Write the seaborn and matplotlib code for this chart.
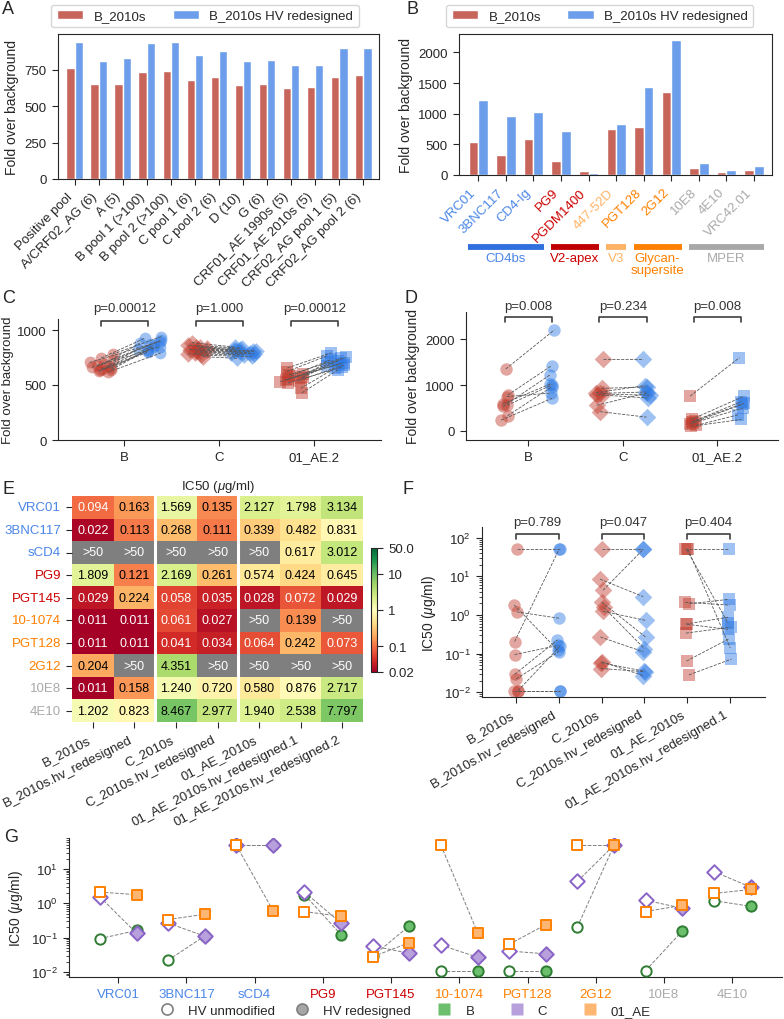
import numpy as np
import pandas as pd
import matplotlib
matplotlib.use('Agg')
import matplotlib.pyplot as plt
import matplotlib.transforms as mtransforms
from matplotlib.colors import LogNorm
from matplotlib.lines import Line2D
import seaborn as sns

# ---------------- data ----------------
# A: pools of sera
pools = ['Positive pool', 'A/CRF02_AG (6)', 'A (5)', 'B pool 1 (>100)', 'B pool 2 (>100)',
         'C pool 1 (6)', 'C pool 2 (6)', 'D (10)', 'G (6)', 'CRF01_AE 1990s (5)',
         'CRF01_AE 2010s (5)', 'CRF02_AG pool 1 (5)', 'CRF02_AG pool 2 (6)']
pool_b2010 = [762, 651, 654, 736, 738, 676, 700, 644, 655, 625, 632, 702, 711]
pool_b2010_hv = [942, 813, 829, 930, 937, 849, 880, 810, 815, 785, 783, 896, 896]

# B: monoclonal antibodies
mabs_b = ['VRC01', '3BNC117', 'CD4-Ig', 'PG9', 'PGDM1400', '447-52D', 'PGT128', '2G12',
          '10E8', '4E10', 'VRC42.01']
mabs_b_epitope = ['CD4bs', 'CD4bs', 'CD4bs', 'V2-apex', 'V2-apex', 'V3', 'Glycan',
                  'Glycan', 'MPER', 'MPER', 'MPER']
mab_b2010 = [533, 332, 587, 234, 65, 750, 783, 1353, 114, 49, 76]
mab_b2010_hv = [1228, 962, 1027, 712, 33, 826, 1429, 2207, 196, 82, 147]

# C: pools, three subtypes (original vs HV redesigned)
groups_cd = ['B', 'C', '01_AE.2']
c_b_orig = [780, 745, 725, 705, 690, 680, 670, 660, 652, 645, 640, 632, 625, 618]
c_b_hv = [940, 925, 905, 895, 880, 870, 862, 850, 842, 830, 822, 812, 800, 790]
c_c_orig = [885, 862, 850, 842, 835, 828, 822, 816, 810, 802, 792, 782, 770, 758]
c_c_hv = [845, 835, 828, 822, 816, 810, 805, 800, 795, 790, 784, 775, 760, 742]
c_ae_orig = [655, 622, 602, 592, 582, 572, 562, 552, 546, 540, 530, 518, 470, 428]
c_ae_hv = [792, 765, 752, 742, 732, 722, 712, 702, 692, 682, 672, 662, 652, 640]
pvals_c = ['p=0.00012', 'p=1.000', 'p=0.00012']

# D: antibodies, three subtypes
d_b_orig = [1353, 783, 750, 587, 533, 332, 234, 560]
d_b_hv = [2207, 1429, 826, 1027, 1228, 962, 712, 1010]
d_c_orig = [1570, 930, 820, 805, 790, 560, 420, 835]
d_c_hv = [1570, 960, 850, 780, 720, 830, 300, 990]
d_ae_orig = [760, 250, 225, 200, 180, 150, 120, 100]
d_ae_hv = [1600, 760, 640, 600, 580, 500, 350, 250]
pvals_d = ['p=0.008', 'p=0.234', 'p=0.008']

# E: IC50 (ug/ml), 50.0 stands for ">50"
GT50 = 50.0
mabs_e = ['VRC01', '3BNC117', 'sCD4', 'PG9', 'PGT145', '10-1074', 'PGT128', '2G12', '10E8', '4E10']
mabs_e_epitope = ['CD4bs', 'CD4bs', 'CD4bs', 'V2-apex', 'V2-apex', 'Glycan', 'Glycan',
                  'Glycan', 'MPER', 'MPER']
ic50_cols = ['B_2010s', 'B_2010s.hv_redesigned', 'C_2010s', 'C_2010s.hv_redesigned',
             '01_AE_2010s', '01_AE_2010s.hv_redesigned.1', '01_AE_2010s.hv_redesigned.2']
ic50_b = [0.094, 0.022, GT50, 1.809, 0.029, 0.011, 0.011, 0.204, 0.011, 1.202]
ic50_b_hv = [0.163, 0.113, GT50, 0.121, 0.224, 0.011, 0.011, GT50, 0.158, 0.823]
ic50_c = [1.569, 0.268, GT50, 2.169, 0.058, 0.061, 0.041, 4.351, 1.240, 8.467]
ic50_c_hv = [0.135, 0.111, GT50, 0.261, 0.035, 0.027, 0.034, GT50, 0.720, 2.977]
ic50_ae = [2.127, 0.339, GT50, 0.574, 0.028, GT50, 0.064, GT50, 0.580, 1.940]
ic50_ae_hv1 = [1.798, 0.482, 0.617, 0.424, 0.072, 0.139, 0.242, GT50, 0.876, 2.538]
ic50_ae_hv2 = [3.134, 0.831, 3.012, 0.645, 0.029, GT50, 0.073, GT50, 2.717, 7.797]
pvals_f = ['p=0.789', 'p=0.047', 'p=0.404']

g_subtypes = ['B', 'C', '01_AE']

# ---------------- style ----------------
BAR_RED = '#c8655b'
BAR_BLUE = '#6d9eeb'
PT_RED = '#c0392b'
PT_BLUE = '#2a78e4'
EPI_TEXT = {'CD4bs': '#4a86e8', 'V2-apex': '#cc0000', 'V3': '#ffb366',
            'Glycan': '#ff8000', 'MPER': '#aaaaaa'}
EPI_BAR = {'CD4bs': '#2f6fde', 'V2-apex': '#c00000', 'V3': '#ffb366',
           'Glycan': '#ff8000', 'MPER': '#a8a8a8'}
EPI_LABEL = {'CD4bs': 'CD4bs', 'V2-apex': 'V2-apex', 'V3': 'V3',
             'Glycan': 'Glycan-\nsupersite', 'MPER': 'MPER'}
SUB_EDGE = {'B': '#2e7d32', 'C': '#8a63c6', '01_AE': '#ff8000'}
SUB_FILL = {'B': '#6cbf6c', 'C': '#b7a0dc', '01_AE': '#ffb673'}
SUB_MARK = {'B': 'o', 'C': 'D', '01_AE': 's'}

sns.set_style('ticks')
plt.rcParams['font.family'] = ['Liberation Sans', 'DejaVu Sans']
plt.rcParams['mathtext.fontset'] = 'custom'
plt.rcParams['mathtext.rm'] = 'Liberation Sans'
plt.rcParams['mathtext.it'] = 'Liberation Sans:italic'
plt.rcParams['font.size'] = 9.5
plt.rcParams['xtick.labelsize'] = 9.5
plt.rcParams['ytick.labelsize'] = 9.5
plt.rcParams['axes.labelsize'] = 10
plt.rcParams['xtick.major.size'] = 4.5
plt.rcParams['ytick.major.size'] = 4.5

W, H = 784, 1020
fig = plt.figure(figsize=(W / 100, H / 100), dpi=100)


def add_ax(left, top, right, bottom):
    return fig.add_axes([left / W, 1 - bottom / H, (right - left) / W, (bottom - top) / H])


def bracket(ax, x1, x2, text, y_line, y_tick, y_text):
    trans = mtransforms.blended_transform_factory(ax.transData, ax.transAxes)
    ax.plot([x1, x1, x2, x2], [y_tick, y_line, y_line, y_tick], color='0.25', lw=1.2,
            transform=trans, clip_on=False)
    ax.text((x1 + x2) / 2, y_text, text, transform=trans, ha='center', va='bottom',
            fontsize=9.5, color='0.2')


def paired(ax, pairs, pos, markers, size, jitter, seed):
    rng = np.random.default_rng(seed)
    for gi, (orig, hv) in enumerate(pairs):
        orig = np.asarray(orig, float)
        hv = np.asarray(hv, float)
        xo = pos[gi][0] + rng.uniform(-jitter, jitter, len(orig))
        xh = pos[gi][1] + rng.uniform(-jitter, jitter, len(hv))
        sns.scatterplot(x=xo, y=orig, marker=markers[gi], s=size, color=PT_RED, alpha=0.45,
                        linewidth=0, ax=ax, zorder=2)
        sns.scatterplot(x=xh, y=hv, marker=markers[gi], s=size, color=PT_BLUE, alpha=0.45,
                        linewidth=0, ax=ax, zorder=2)
        for a, b, ya, yb in zip(xo, xh, orig, hv):
            ax.plot([a, b], [ya, yb], ls='--', lw=0.6, color='0.35', zorder=3)


def bar_panel(ax, cats, orig, hv):
    df = pd.DataFrame({'cat': cats * 2, 'fold': orig + hv,
                       'variant': ['B_2010s'] * len(cats) + ['B_2010s HV redesigned'] * len(cats)})
    sns.barplot(data=df, x='cat', y='fold', hue='variant', palette=[BAR_RED, BAR_BLUE],
                saturation=1, width=0.7, ax=ax)
    ax.set_xlabel('')
    ax.set_ylabel('Fold over background')
    plt.setp(ax.get_xticklabels(), rotation=45, ha='right')


# ---------------- A ----------------
axA = add_ax(58, 35, 379, 180)
bar_panel(axA, pools, pool_b2010, pool_b2010_hv)
axA.set_xlim(-0.7, len(pools) - 0.34)
axA.set_ylim(0, 995)
axA.set_yticks([0, 250, 500, 750])
sns.move_legend(axA, 'lower center', bbox_to_anchor=(0.458, 1.0), ncol=2, title=None,
                frameon=True, fontsize=9.5)

# ---------------- B ----------------
axB = add_ax(459, 35, 772, 176)
bar_panel(axB, mabs_b, mab_b2010, mab_b2010_hv)
axB.set_xlim(-0.7, len(mabs_b) - 0.35)
axB.set_ylim(0, 2300)
axB.set_yticks([0, 500, 1000, 1500, 2000])
for lab, ep in zip(axB.get_xticklabels(), mabs_b_epitope):
    lab.set_color(EPI_TEXT[ep])
sns.move_legend(axB, 'lower center', bbox_to_anchor=(0.45, 1.0), ncol=2, title=None,
                frameon=True, fontsize=9.5)

# epitope group bars under the antibody names
transB = mtransforms.blended_transform_factory(axB.transData, axB.transAxes)
start = 0
for i in range(1, len(mabs_b) + 1):
    if i == len(mabs_b) or mabs_b_epitope[i] != mabs_b_epitope[start]:
        ep = mabs_b_epitope[start]
        axB.plot([start - 0.37, i - 1 + 0.37], [-0.51, -0.51], transform=transB,
                 color=EPI_BAR[ep], lw=4.2, solid_capstyle='butt', clip_on=False)
        axB.text((start + i - 1) / 2, -0.545, EPI_LABEL[ep], transform=transB, ha='center',
                 va='top', color=EPI_TEXT[ep], fontsize=9.5, linespacing=1.0)
        start = i

# ---------------- C ----------------
axC = add_ax(58, 320, 381, 441)
pos_cd = [(g - 0.25, g + 0.25) for g in range(3)]
paired(axC, [(c_b_orig, c_b_hv), (c_c_orig, c_c_hv), (c_ae_orig, c_ae_hv)], pos_cd,
       ['o', 'D', 's'], 72, 0.14, 4)
axC.set_xlim(-0.7, 2.7)
axC.set_ylim(0, 1100)
axC.set_yticks([0, 500, 1000])
axC.set_xticks(range(3))
axC.set_xticklabels(groups_cd)
axC.set_ylabel('Fold over background', fontsize=9.5, labelpad=2)
sns.despine(ax=axC)
for (x1, x2), p in zip(pos_cd, pvals_c):
    bracket(axC, x1, x2, p, 0.983, 0.942, 1.04)

# ---------------- D ----------------
axD = add_ax(466, 313, 778, 441)
paired(axD, [(d_b_orig, d_b_hv), (d_c_orig, d_c_hv), (d_ae_orig, d_ae_hv)], pos_cd,
       ['o', 'D', 's'], 80, 0.04, 7)
axD.set_xlim(-0.66, 2.64)
axD.set_ylim(-200, 2600)
axD.set_yticks([0, 1000, 2000])
axD.set_xticks(range(3))
axD.set_xticklabels(groups_cd)
axD.set_ylabel('Fold over background')
sns.despine(ax=axD)
for (x1, x2), p in zip(pos_cd, pvals_d):
    bracket(axD, x1, x2, p, 0.96, 0.92, 1.0)

# ---------------- E ----------------
axE = add_ax(72, 497, 363, 723)
cax = add_ax(371, 549, 377, 673)
ic50_df = pd.DataFrame(dict(zip(ic50_cols, [ic50_b, ic50_b_hv, ic50_c, ic50_c_hv,
                                            ic50_ae, ic50_ae_hv1, ic50_ae_hv2])), index=mabs_e)
mask = ic50_df >= GT50
annot = ic50_df.map(lambda v: f'{v:.3f}')
axE.set_facecolor('#7f7f7f')
sns.heatmap(ic50_df, mask=mask, cmap='RdYlGn', norm=LogNorm(vmin=0.02, vmax=50),
            annot=annot, fmt='', annot_kws={'size': 9}, cbar_ax=cax, ax=axE)
for t in axE.texts:
    t.set_color('white' if float(t.get_text()) < 0.1 else 'black')
for i, j in zip(*np.where(mask.values)):
    axE.text(j + 0.5, i + 0.5, '>50', ha='center', va='center', color='white', fontsize=9)
axE.axvline(2, color='white', lw=2.2)
axE.axvline(4, color='white', lw=2.2)
axE.set_title('IC50 ($\\mu$g/ml)', fontsize=9.5, pad=5)
plt.setp(axE.get_yticklabels(), rotation=0)
for lab, ep in zip(axE.get_yticklabels(), mabs_e_epitope):
    lab.set_color(EPI_TEXT[ep])
plt.setp(axE.get_xticklabels(), rotation=27, ha='right')
cbar = axE.collections[0].colorbar
cbar.ax.minorticks_off()
cbar.set_ticks([0.02, 0.1, 1, 10, 50])
cbar.set_ticklabels(['0.02', '0.1', '1', '10', '50.0'])
cbar.outline.set_linewidth(0.8)
cbar.outline.set_edgecolor('0.15')

# ---------------- F ----------------
axF = add_ax(482, 528, 765, 698)
pos_f = [(0, 1), (2, 3), (4, 5)]
paired(axF, [(ic50_b, ic50_b_hv), (ic50_c, ic50_c_hv), (ic50_ae, ic50_ae_hv1)], pos_f,
       ['o', 'D', 's'], 80, 0.05, 11)
axF.set_yscale('log')
axF.set_ylim(0.0075, 190)
axF.set_xlim(-0.8, 5.82)
axF.set_xticks(range(6))
axF.set_xticklabels(ic50_cols[:6], rotation=30, ha='right')
axF.set_ylabel('IC50 ($\\mu$g/ml)')
sns.despine(ax=axF)
for (x1, x2), p in zip(pos_f, pvals_f):
    bracket(axF, x1, x2, p, 0.96, 0.93, 0.995)

# ---------------- G ----------------
axG = add_ax(69, 839, 782, 978)
g_unmod = {'B': ic50_b, 'C': ic50_c, '01_AE': ic50_ae}
g_redes = {'B': ic50_b_hv, 'C': ic50_c_hv, '01_AE': ic50_ae_hv1}
idx = np.arange(len(mabs_e))
for st in g_subtypes:
    for i in idx:
        axG.plot([i - 0.27, i + 0.27], [g_unmod[st][i], g_redes[st][i]], ls='--', lw=0.7,
                 color='0.5', zorder=1)
for st in g_subtypes:
    sns.scatterplot(x=idx - 0.27, y=g_unmod[st], marker=SUB_MARK[st], s=55, color=SUB_EDGE[st],
                    facecolor='white', edgecolor=SUB_EDGE[st], linewidth=1.4, ax=axG, zorder=3)
for st in g_subtypes:
    sns.scatterplot(x=idx + 0.27, y=g_redes[st], marker=SUB_MARK[st], s=55, color=SUB_FILL[st],
                    facecolor=SUB_FILL[st], edgecolor=SUB_EDGE[st], linewidth=1.4, ax=axG,
                    zorder=4)
axG.set_yscale('log')
axG.set_ylim(0.0072, 80)
axG.set_xlim(-0.72, len(mabs_e) - 0.27)
axG.set_xticks(idx)
axG.set_xticklabels(mabs_e)
for lab, ep in zip(axG.get_xticklabels(), mabs_e_epitope):
    lab.set_color(EPI_TEXT[ep])
axG.set_ylabel('IC50 ($\\mu$g/ml)')
sns.despine(ax=axG)

hv_handles = [Line2D([], [], ls='', marker='o', ms=8, mfc='white', mec='0.5', mew=1.2),
              Line2D([], [], ls='', marker='o', ms=8, mfc='0.65', mec='0.5', mew=1.2)]
fig.legend(hv_handles, ['HV unmodified', 'HV redesigned'], loc='center',
           bbox_to_anchor=(0.36, 0.008), ncol=2, frameon=False, fontsize=9.5,
           handletextpad=0.6, columnspacing=1.0)
st_handles = [Line2D([], [], ls='', marker='s', ms=8, mfc=SUB_FILL[st], mec='none')
              for st in g_subtypes]
fig.legend(st_handles, g_subtypes, loc='center', bbox_to_anchor=(0.69, 0.008), ncol=3,
           frameon=False, fontsize=9.5, handletextpad=0.6, columnspacing=2.2)

# ---------------- panel letters ----------------
for letter, x, y in [('A', 2, 1), ('B', 406, 1), ('C', 2, 290), ('D', 405, 290),
                     ('E', 2, 481), ('F', 402, 481), ('G', 4, 829)]:
    fig.text(x / W, 1 - y / H, letter, fontsize=13, va='top', ha='left')

fig.savefig('out.png', dpi=100)
